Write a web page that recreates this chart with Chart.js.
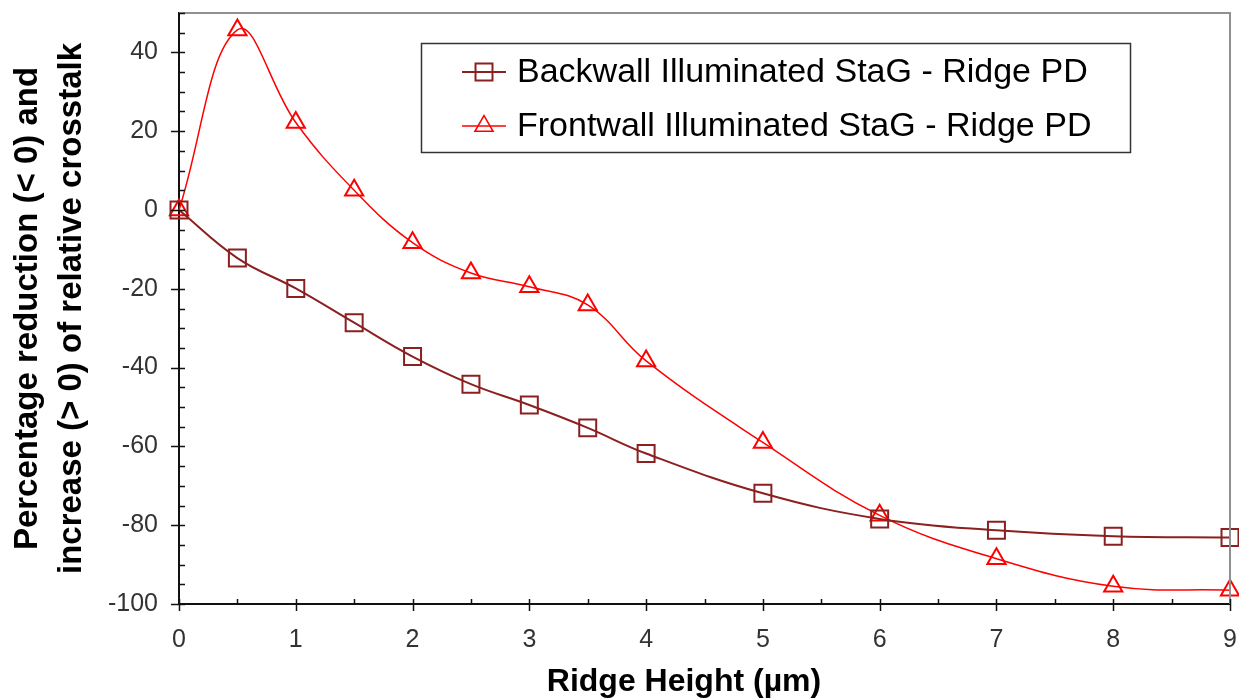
<!doctype html>
<html><head><meta charset="utf-8"><title>Ridge height vs relative crosstalk</title>
<style>
  html, body { margin: 0; padding: 0; background: #fff; }
  #wrap { width: 1239px; height: 699px; }
</style>
</head>
<body>
<div id="wrap"><canvas id="c" width="1239" height="699"></canvas></div>
<script src="https://cdn.jsdelivr.net/npm/chart.js"></script>
<script>
// ridge height (um) and % change of relative crosstalk for both illumination modes
const ridgeHeight = [0, 0.5, 1, 1.5, 2, 2.5, 3, 3.5, 4, 5, 6, 7, 8, 9]
const backwall = [0, -12.2, -19.9, -28.6, -37.2, -44.2, -49.5, -55.3, -61.8, -71.9, -78.4, -81.3, -82.8, -83.1]
const frontwall = [0, 45.7, 22.2, 5.0, -8.3, -16.0, -19.5, -24.1, -38.3, -59.0, -77.5, -88.5, -95.5, -96.5]
const seriesNames = ['Backwall Illuminated StaG - Ridge PD', 'Frontwall Illuminated StaG - Ridge PD']
const xTicks = [0, 1, 2, 3, 4, 5, 6, 7, 8, 9]
const yTicks = [-100, -80, -60, -40, -20, 0, 20, 40]
const xTitle = 'Ridge Height (µm)'
const yTitle = ['Percentage reduction (< 0) and', 'increase (> 0) of relative crosstalk']

const FONT = '"Liberation Sans", Arial, Helvetica, sans-serif'
const BACK_COLOR = '#8b2020'
const FRONT_COLOR = '#ff0000'

// frame, tick marks, axis titles and the boxed legend
const decor = {
  id: 'decor',
  afterDraw(chart) {
    const { ctx, chartArea: a, scales: { x, y } } = chart
    ctx.save()

    // grey frame on top / right
    ctx.strokeStyle = '#909090'
    ctx.lineWidth = 2
    ctx.beginPath()
    ctx.moveTo(a.left, a.top)
    ctx.lineTo(a.right, a.top)
    ctx.lineTo(a.right, a.bottom)
    ctx.stroke()

    // tick marks: majors cross the axis, minors sit inside
    ctx.strokeStyle = '#111'
    ctx.lineWidth = 1.5
    ctx.beginPath()
    for (let v = -100; v <= 50; v += 5) {
      const py = Math.round(y.getPixelForValue(v)) + 0.5
      const major = yTicks.includes(v)
      ctx.moveTo(a.left - (major ? 8 : 0), py)
      ctx.lineTo(a.left + 6, py)
    }
    for (let v = 0; v <= 9; v += 0.5) {
      const px = Math.round(x.getPixelForValue(v)) + 0.5
      const major = xTicks.includes(v)
      ctx.moveTo(px, a.bottom - 5)
      ctx.lineTo(px, a.bottom + (major ? 7 : 0))
    }
    ctx.stroke()

    // axis titles
    ctx.fillStyle = '#000'
    ctx.font = 'bold 32px ' + FONT
    ctx.textAlign = 'center'
    ctx.textBaseline = 'middle'
    ctx.fillText(xTitle, 684, 682)
    ctx.font = 'bold 33px ' + FONT
    const midY = (a.top + a.bottom) / 2
    const lineX = [28, 72]
    yTitle.forEach((t, i) => {
      ctx.save()
      ctx.translate(lineX[i], midY)
      ctx.rotate(-Math.PI / 2)
      ctx.fillText(t, 0, 0)
      ctx.restore()
    })

    // legend box
    ctx.strokeStyle = '#333'
    ctx.lineWidth = 1.5
    ctx.strokeRect(421.5, 43.5, 709, 109)
    ctx.font = '34px ' + FONT
    ctx.textAlign = 'left'
    chart.data.datasets.forEach((ds, i) => {
      const ly = 72 + i * 54
      ctx.strokeStyle = ds.borderColor
      ctx.lineWidth = ds.borderWidth
      ctx.beginPath()
      ctx.moveTo(462, ly)
      ctx.lineTo(506, ly)
      ctx.stroke()
      ctx.fillStyle = 'rgba(0,0,0,0)'
      Chart.helpers.drawPoint(ctx, {
        pointStyle: ds.pointStyle,
        radius: ds.pointRadius,
        borderWidth: 1.5,
        rotation: 0
      }, 484, ly)
      ctx.fillStyle = '#000'
      ctx.fillText(ds.label, 517, ly + 1)
    })
    ctx.restore()
  }
}

const zeroPad = (s) => { s.paddingTop = 0; s.paddingBottom = 0; s.paddingLeft = 0; s.paddingRight = 0 }

new Chart(document.getElementById('c'), {
  type: 'line',
  data: {
    datasets: [
      {
        label: seriesNames[0],
        data: ridgeHeight.map((h, i) => ({ x: h, y: backwall[i] })),
        borderColor: BACK_COLOR,
        borderWidth: 2,
        tension: 0.4,
        pointStyle: 'rect',
        pointRadius: 12,
        pointBorderWidth: 2,
        pointBorderColor: BACK_COLOR,
        pointBackgroundColor: 'rgba(0,0,0,0)',
        clip: false
      },
      {
        label: seriesNames[1],
        data: ridgeHeight.map((h, i) => ({ x: h, y: frontwall[i] })),
        borderColor: FRONT_COLOR,
        borderWidth: 1.5,
        tension: 0.4,
        pointStyle: 'triangle',
        pointRadius: 10.5,
        pointBorderWidth: 2,
        pointBorderColor: FRONT_COLOR,
        pointBackgroundColor: 'rgba(0,0,0,0)',
        clip: false
      }
    ]
  },
  options: {
    responsive: false,
    animation: false,
    layout: { autoPadding: false, padding: { top: 13, right: 9, left: 0, bottom: 0 } },
    plugins: { legend: { display: false }, tooltip: { enabled: false } },
    scales: {
      x: {
        type: 'linear',
        min: 0,
        max: 9,
        afterBuildTicks: (s) => { s.ticks = xTicks.map((v) => ({ value: v })) },
        afterFit: (s) => { s.height = 95; zeroPad(s) },
        grid: { display: false, drawTicks: false },
        border: { display: true, color: '#111', width: 2 },
        ticks: { color: '#333', padding: 24, font: { family: FONT, size: 25, lineHeight: 1 } }
      },
      y: {
        type: 'linear',
        min: -100,
        max: 50,
        afterBuildTicks: (s) => { s.ticks = yTicks.map((v) => ({ value: v })) },
        afterFit: (s) => { s.width = 179; zeroPad(s) },
        grid: { display: false, drawTicks: false },
        border: { display: true, color: '#111', width: 2 },
        ticks: { color: '#333', padding: 21, font: { family: FONT, size: 25, lineHeight: 1 } }
      }
    }
  },
  plugins: [decor]
})
</script>
</body></html>
